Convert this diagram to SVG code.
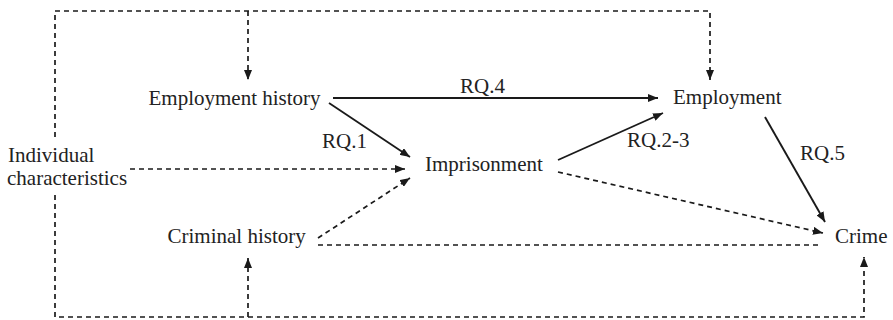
<svg xmlns="http://www.w3.org/2000/svg" width="893" height="320" viewBox="0 0 893 320">
<style>
.t{font-family:'Liberation Serif','DejaVu Serif',serif;font-size:21px;fill:#222}
.d{fill:none;stroke:#1a1a1a;stroke-width:1.7;stroke-dasharray:5 4}
.s{fill:none;stroke:#1a1a1a;stroke-width:1.9}
</style>
<defs>
<marker id="ah" viewBox="0 0 10 8" refX="10" refY="4" markerWidth="10" markerHeight="8" markerUnits="userSpaceOnUse" orient="auto">
<path d="M0,0 L10,4 L0,8 z" fill="#1a1a1a"/>
</marker>
</defs>
<g id="connectors">
<path class="d" d="M55,137 V11 H710 V80" marker-end="url(#ah)"/>
<path class="d" d="M248,11 V80" marker-end="url(#ah)"/>
<path class="d" d="M55,195 V317 H864 V257" marker-end="url(#ah)"/>
<path class="d" d="M248,317 V258" marker-end="url(#ah)"/>
<path class="d" d="M130,169 H405" marker-end="url(#ah)"/>
<path class="d" d="M318,238 L410,178" marker-end="url(#ah)"/>
<path class="d" d="M318,245 H820"/>
<path class="d" d="M558,172 L823,233" marker-end="url(#ah)"/>
<path class="s" d="M333,98 H658" marker-end="url(#ah)"/>
<path class="s" d="M329,103 L410,157" marker-end="url(#ah)"/>
<path class="s" d="M558,160 L663,113" marker-end="url(#ah)"/>
<path class="s" d="M765,117 L825,222" marker-end="url(#ah)"/>
<text class="t" x="460" y="93">RQ.4</text>
<text class="t" x="322" y="148">RQ.1</text>
<text class="t" x="627" y="147">RQ.2-3</text>
<text class="t" x="800" y="160">RQ.5</text>
</g>
<g id="individual">
<text class="t" x="8" y="162">Individual</text>
<text class="t" x="7" y="185">characteristics</text>
</g>
<g id="employment-history"><text class="t" x="148.5" y="105">Employment history</text></g>
<g id="criminal-history"><text class="t" x="167.5" y="243">Criminal history</text></g>
<g id="imprisonment"><text class="t" x="425" y="171">Imprisonment</text></g>
<g id="employment"><text class="t" x="673" y="104">Employment</text></g>
<g id="crime"><text class="t" x="835" y="243">Crime</text></g>
</svg>
